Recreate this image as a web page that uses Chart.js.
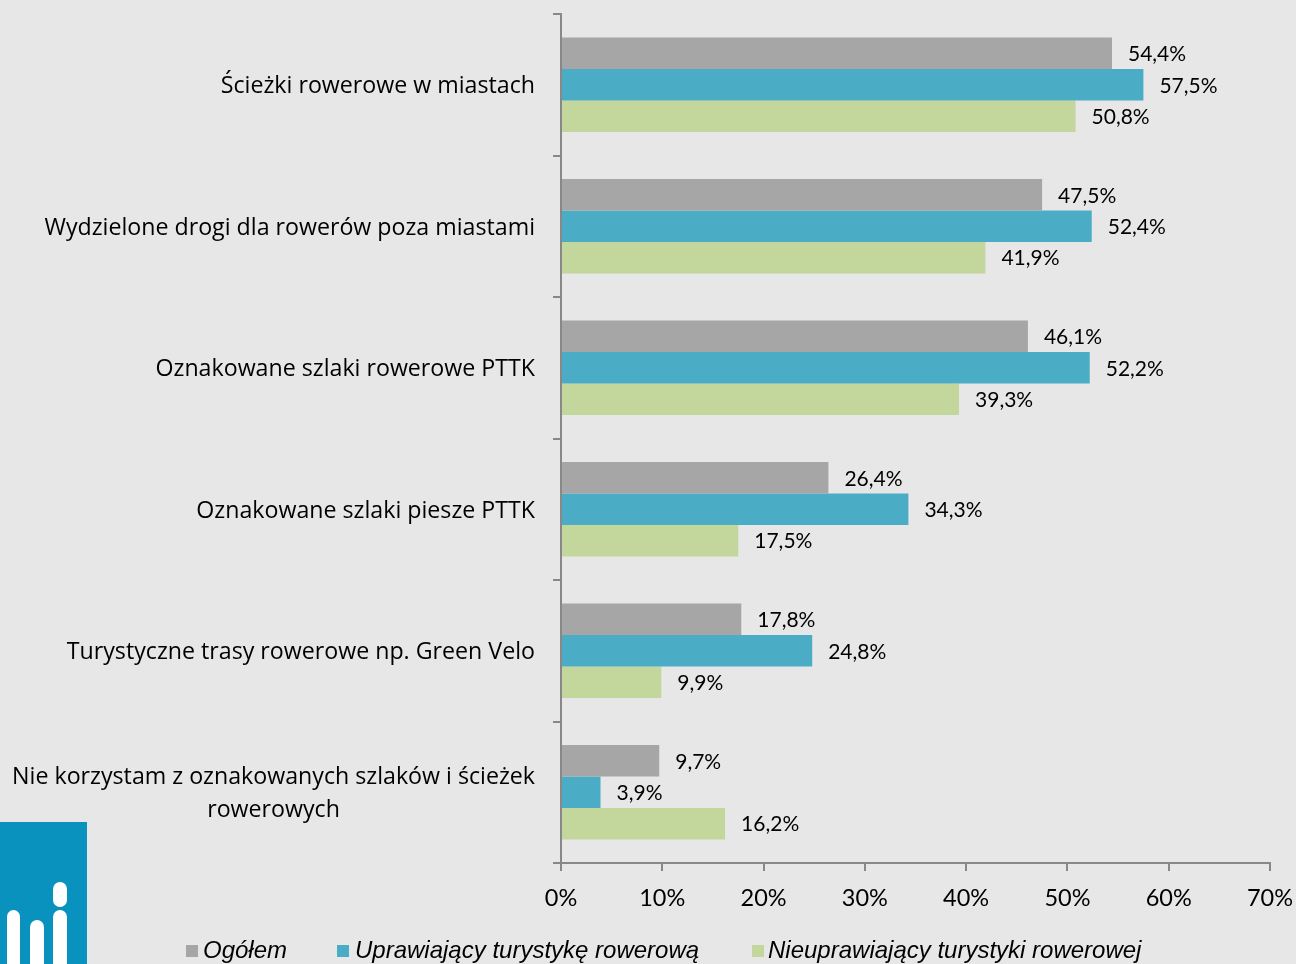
<!DOCTYPE html>
<html lang="pl">
<head>
<meta charset="utf-8">
<script src="https://cdn.jsdelivr.net/npm/chart.js@4/dist/chart.umd.min.js"></script>
<style>
  html, body { margin: 0; padding: 0; background: #e7e7e7; }
  .wrap { position: relative; width: 1296px; height: 964px; overflow: hidden; background: #e7e7e7; }
  canvas { position: absolute; left: 0; top: 0; }
  .legend { position: absolute; top: 936px; left: 0; width: 1296px; height: 30px;
    font-family: "Liberation Sans", Arial, sans-serif; font-style: italic; font-size: 24px; color: #000; }
  .legend span { position: absolute; white-space: nowrap; }
  .legend i { position: absolute; width: 12px; height: 12px; top: 9px; }
  .logo { position: absolute; left: 0; top: 822px; width: 87px; height: 142px; background: #0a92bf; }
  .logo b { position: absolute; background: #fff; border-radius: 7px; }
</style>
</head>
<body>
<div class="wrap">
  <canvas id="chart" width="1296" height="964"></canvas>
  <div class="logo">
    <b style="left:7px; top:88px; width:13px; height:60px;"></b>
    <b style="left:30px; top:98px; width:14px; height:60px;"></b>
    <b style="left:53px; top:60px; width:14px; height:25px;"></b>
    <b style="left:53px; top:88px; width:14px; height:70px;"></b>
  </div>
  <div class="legend" id="legend"></div>
</div>
<script>
const categories = [
  ['Ścieżki rowerowe w miastach'],
  ['Wydzielone drogi dla rowerów poza miastami'],
  ['Oznakowane szlaki rowerowe PTTK'],
  ['Oznakowane szlaki piesze PTTK'],
  ['Turystyczne trasy rowerowe np. Green Velo'],
  ['Nie korzystam z oznakowanych szlaków i ścieżek', 'rowerowych'],
];
const seriesNames = ['Ogółem', 'Uprawiający turystykę rowerową', 'Nieuprawiający turystyki rowerowej'];
const ogolem = [54.4, 47.5, 46.1, 26.4, 17.8, 9.7];
const uprawiajacy = [57.5, 52.4, 52.2, 34.3, 24.8, 3.9];
const nieuprawiajacy = [50.8, 41.9, 39.3, 17.5, 9.9, 16.2];
const xTicks = [0, 10, 20, 30, 40, 50, 60, 70];

const colors = ['#a6a6a6', '#4bacc6', '#c3d69b'];
const axisColor = '#888888';

function fmt(v) {
  return v.toFixed(1).replace('.', ',') + '%';
}

// value labels to the right of each bar
const valueLabels = {
  id: 'valueLabels',
  afterDatasetsDraw(chart) {
    const ctx = chart.ctx;
    ctx.save();
    ctx.font = '21px Lato, "Open Sans", sans-serif';
    ctx.fillStyle = '#000';
    ctx.textAlign = 'left';
    ctx.textBaseline = 'middle';
    chart.data.datasets.forEach((ds, i) => {
      chart.getDatasetMeta(i).data.forEach((bar, j) => {
        ctx.fillText(fmt(ds.data[j]), bar.x + 16, bar.y + 1);
      });
    });
    ctx.restore();
  },
};

// category labels: right-aligned block, lines centred inside it
const categoryLabels = {
  id: 'categoryLabels',
  afterDraw(chart) {
    const ctx = chart.ctx;
    const scale = chart.scales.y;
    ctx.save();
    ctx.font = '23.2px "Open Sans", sans-serif';
    ctx.fillStyle = '#000';
    ctx.textAlign = 'center';
    ctx.textBaseline = 'middle';
    const lineH = 33;
    categories.forEach((lines, i) => {
      const y = scale.getPixelForTick(i) + 2;
      const w = Math.max(...lines.map((l) => ctx.measureText(l).width));
      const cx = 535 - w / 2;
      const y0 = y - ((lines.length - 1) * lineH) / 2;
      lines.forEach((l, k) => ctx.fillText(l, cx, y0 + k * lineH));
    });
    ctx.restore();
  },
};

new Chart(document.getElementById('chart'), {
  type: 'bar',
  data: {
    labels: categories,
    datasets: [ogolem, uprawiajacy, nieuprawiajacy].map((data, i) => ({
      label: seriesNames[i],
      data,
      backgroundColor: colors[i],
      borderWidth: 0,
      categoryPercentage: 0.667,
      barPercentage: 1.0,
    })),
  },
  options: {
    indexAxis: 'y',
    responsive: false,
    animation: false,
    layout: { padding: { top: 14, right: 26, left: 0, bottom: 0 } },
    plugins: {
      legend: { display: false },
      tooltip: { enabled: false },
    },
    scales: {
      y: {
        ticks: { display: false },
        grid: { drawOnChartArea: false, tickLength: 8, color: axisColor, lineWidth: 2, offset: true },
        border: { color: axisColor, width: 2 },
        afterFit: (scale) => { scale.width = 561; },
      },
      x: {
        min: 0,
        max: 70,
        afterBuildTicks: (scale) => { scale.ticks = xTicks.map((v) => ({ value: v })); },
        ticks: {
          callback: (v) => v + '%',
          color: '#000',
          font: { family: 'Lato, "Open Sans", sans-serif', size: 23.5 },
          padding: 13,
          maxRotation: 0,
        },
        grid: { drawOnChartArea: false, tickLength: 8, color: axisColor, lineWidth: 2 },
        border: { color: axisColor, width: 2 },
        afterFit: (scale) => {
          scale.height = 101;
          scale.paddingRight = 0;
          scale.paddingLeft = 0;
        },
      },
    },
  },
  plugins: [valueLabels, categoryLabels],
});

// legend
const legendPos = [[186, 203], [337, 355], [752, 768]];
const legend = document.getElementById('legend');
seriesNames.forEach((name, i) => {
  const sq = document.createElement('i');
  sq.style.left = legendPos[i][0] + 'px';
  sq.style.background = colors[i];
  legend.appendChild(sq);
  const tx = document.createElement('span');
  tx.style.left = legendPos[i][1] + 'px';
  tx.textContent = name;
  legend.appendChild(tx);
});
</script>
</body>
</html>
